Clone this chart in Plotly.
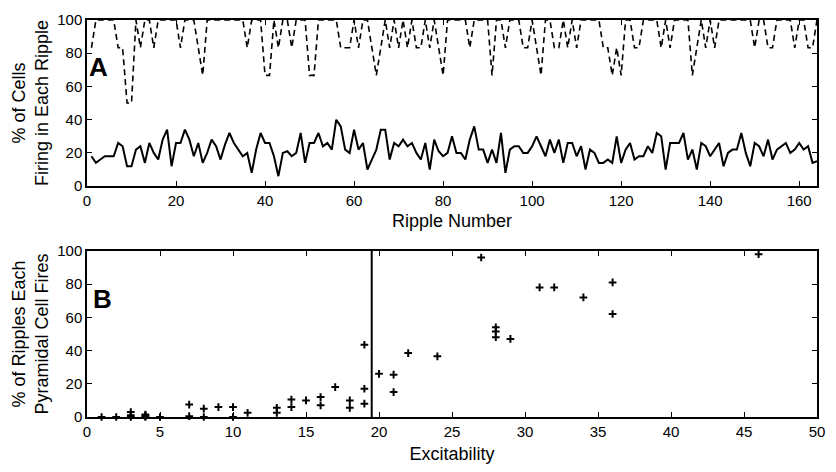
import plotly.graph_objects as go

# panel A: % of cells firing in each ripple
ripple = list(range(1, 165))
interneuron_pct = [
    83.3, 100, 100, 100, 100, 100, 83.3, 83.3, 50, 50,
    100, 83.3, 100, 100, 83.3, 100, 100, 100, 100, 100,
    83.3, 100, 100, 100, 83.3, 66.7, 100, 100, 100, 100,
    100, 100, 100, 100, 100, 83.3, 100, 100, 100, 66.7,
    66.7, 100, 83.3, 100, 100, 83.3, 100, 100, 100, 66.7,
    66.7, 100, 100, 100, 100, 100, 83.3, 83.3, 83.3, 100,
    83.3, 100, 100, 83.3, 66.7, 83.3, 100, 83.3, 100, 83.3,
    100, 83.3, 100, 83.3, 83.3, 100, 83.3, 100, 83.3, 66.7,
    100, 100, 100, 100, 100, 83.3, 100, 100, 100, 100,
    66.7, 100, 100, 83.3, 100, 100, 100, 83.3, 83.3, 100,
    83.3, 66.7, 100, 100, 83.3, 83.3, 100, 83.3, 100, 83.3,
    100, 100, 100, 100, 100, 83.3, 83.3, 66.7, 83.3, 66.7,
    100, 100, 83.3, 83.3, 100, 100, 100, 100, 83.3, 100,
    83.3, 100, 100, 100, 100, 66.7, 83.3, 100, 83.3, 100,
    83.3, 100, 100, 100, 100, 100, 100, 100, 100, 83.3,
    100, 100, 83.3, 83.3, 100, 100, 100, 100, 83.3, 100,
    100, 83.3, 83.3, 100,
]
pyramidal_pct = [
    18, 14, 16, 18, 18, 18, 26, 24, 12, 12,
    22, 24, 14, 26, 20, 16, 28, 34, 12, 26,
    26, 34, 28, 18, 26, 14, 20, 28, 24, 16,
    25, 32, 26, 22, 18, 20, 8, 22, 32, 26,
    26, 18, 6, 20, 21, 18, 20, 32, 14, 26,
    26, 32, 24, 26, 22, 40, 36, 22, 20, 34,
    22, 26, 10, 16, 22, 34, 34, 16, 26, 24,
    28, 24, 26, 20, 16, 26, 10, 28, 21, 18,
    20, 30, 20, 20, 16, 28, 36, 22, 22, 14,
    22, 14, 32, 8, 22, 24, 24, 20, 20, 24,
    30, 24, 18, 28, 20, 28, 14, 26, 26, 18,
    24, 10, 22, 20, 14, 14, 16, 14, 30, 14,
    22, 26, 16, 18, 18, 24, 20, 32, 30, 10,
    26, 26, 26, 32, 16, 22, 10, 26, 24, 18,
    22, 26, 12, 20, 22, 22, 32, 20, 12, 26,
    24, 18, 28, 16, 22, 24, 26, 20, 22, 26,
    22, 24, 14, 15,
]

# panel B: % of ripples each pyramidal cell fires vs excitability
excitability = [1, 2, 3, 3, 3, 4, 4, 4, 4, 5, 7, 7, 8, 8, 9, 10, 10, 11, 13, 13,
                14, 14, 15, 16, 16, 17, 18, 18, 19, 19, 19, 20, 21, 21, 22, 24,
                27, 28, 28, 28, 29, 31, 32, 34, 36, 36, 46]
fire_pct = [0, 0, 0, 1, 3, 0, 0.5, 1, 1.5, 0, 7.5, 0.5, 5, 0, 6, 6, 0, 2.5, 5.5, 2.5,
            10.5, 6, 10, 12, 7, 18, 10, 5.5, 43.5, 17, 8, 26, 25.5, 15, 38.5, 36.5,
            96, 54, 51.5, 48, 47, 78, 78, 72, 81, 62, 98]
threshold = 19.5

FONT = "Liberation Sans, Arial, sans-serif"

fig = go.Figure()

fig.add_trace(go.Scatter(x=ripple, y=interneuron_pct, mode="lines",
                         line=dict(color="black", width=1.6, dash="6px,4px"),
                         xaxis="x", yaxis="y", showlegend=False))
fig.add_trace(go.Scatter(x=ripple, y=pyramidal_pct, mode="lines",
                         line=dict(color="black", width=2),
                         xaxis="x", yaxis="y", showlegend=False))

fig.add_trace(go.Scatter(x=[threshold, threshold], y=[0, 100], mode="lines",
                         line=dict(color="black", width=2),
                         xaxis="x2", yaxis="y2", showlegend=False))
fig.add_trace(go.Scatter(x=excitability, y=fire_pct, mode="markers",
                         marker=dict(symbol="cross-thin", size=5.5,
                                     line=dict(color="black", width=2)),
                         cliponaxis=False,
                         xaxis="x2", yaxis="y2", showlegend=False))

axis_style = dict(showline=True, linecolor="black", linewidth=1.5, mirror="ticks",
                  ticks="inside", ticklen=5, tickcolor="black", showgrid=False,
                  zeroline=False, tickfont=dict(size=15, color="black"))

fig.update_layout(
    width=836, height=472,
    margin=dict(l=87, r=11, t=16, b=45),
    paper_bgcolor="white", plot_bgcolor="white",
    font=dict(family=FONT, color="black"),
    xaxis=dict(domain=[0, 1], anchor="y", range=[0, 164], tick0=0, dtick=20,
               title=dict(text="Ripple Number", font=dict(size=18), standoff=7),
               **axis_style),
    yaxis=dict(domain=[0.5815, 1], anchor="x", range=[0, 100], tick0=0, dtick=20,
               title=dict(text="% of Cells<br>Firing in Each Ripple", font=dict(size=18),
                          standoff=4),
               **axis_style),
    xaxis2=dict(domain=[0, 1], anchor="y2", range=[0, 50], tick0=0, dtick=5,
                title=dict(text="Excitability", font=dict(size=18), standoff=9),
                **axis_style),
    yaxis2=dict(domain=[0, 0.4185], anchor="x2", range=[0, 100], tick0=0, dtick=20,
                title=dict(text="% of Ripples Each<br>Pyramidal Cell Fires", font=dict(size=18),
                           standoff=4),
                **axis_style),
    annotations=[
        dict(text="<b>A</b>", xref="x domain", yref="y domain", x=0.0, y=0.72,
             xanchor="left", yanchor="middle", showarrow=False, font=dict(size=26)),
        dict(text="<b>B</b>", xref="x2 domain", yref="y2 domain", x=0.006, y=0.71,
             xanchor="left", yanchor="middle", showarrow=False, font=dict(size=26)),
    ],
)

# drop the default body margin so the figure sits at the page origin
fig.write_html("out.html", config={"displayModeBar": False},
               post_script="document.body.style.margin = '0';")
